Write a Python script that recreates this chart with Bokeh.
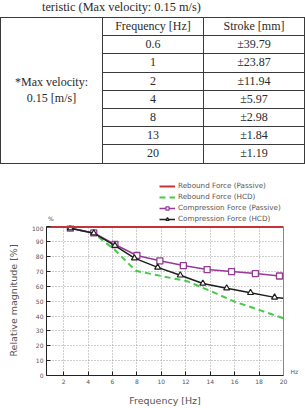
from bokeh.plotting import figure
from bokeh.layouts import column
from bokeh.models import (Range1d, Legend, LegendItem, Label, FixedTicker, Div, LinearAxis)
from bokeh.embed import file_html
from bokeh.resources import INLINE

# ---------------- Table data ----------------
caption = "teristic (Max velocity: 0.15 m/s)"
header = ["Frequency [Hz]", "Stroke [mm]"]
freq_rows = ["0.6", "1", "2", "4", "8", "13", "20"]
stroke_rows = ["±39.79", "±23.87", "±11.94", "±5.97", "±2.98", "±1.84", "±1.19"]
group_label = ["*Max velocity:", "0.15 [m/s]"]

# ---------------- Chart data ----------------
rebound_passive_x = [0.6, 20.0]
rebound_passive_y = [100.0, 100.0]
rebound_hcd_x = [2.55, 4.45, 6.2, 7.9, 9.4, 12.1, 14.0, 16.0, 18.0, 20.0]
rebound_hcd_y = [99.2, 96.0, 84.5, 70.5, 68.0, 63.5, 57.0, 49.7, 44.2, 38.5]
comp_passive_x = [2.55, 4.47, 6.2, 8.0, 9.88, 11.8, 13.75, 15.75, 17.7, 19.67, 20.0]
comp_passive_y = [99.2, 96.0, 88.2, 80.8, 77.2, 74.0, 71.3, 70.0, 68.6, 67.0, 66.8]
comp_hcd_x = [2.55, 4.47, 6.2, 7.8, 9.7, 11.55, 13.4, 15.35, 17.3, 19.27, 20.0]
comp_hcd_y = [99.2, 95.8, 87.5, 79.0, 72.8, 67.5, 62.0, 58.8, 55.7, 52.6, 52.0]
x_ticks = [2, 4, 6, 8, 10, 12, 14, 16, 18, 20]
y_ticks = [0, 10, 20, 30, 40, 50, 60, 70, 80, 90, 100]
series_names = ["Rebound Force (Passive)", "Rebound Force (HCD)",
                "Compression Force (Passive)", "Compression Force (HCD)"]
x_unit = "Hz"
y_unit = "%"

# ---------------- Styles ----------------
W = 305
TH = 170          # table block height
LH = 55           # legend block height
sans = "DejaVu Sans"
gray = "#555555"
c_red, c_green, c_purple, c_black = "#c0353a", "#44cc44", "#953a95", "#1e1e1e"


def draw_series(fig):
    """Draw the four series on a figure; returns renderers for the legend."""
    g = fig.line(rebound_hcd_x, rebound_hcd_y, line_color=c_green, line_width=2,
                 line_dash="6 4")
    pl = fig.line(comp_passive_x, comp_passive_y, line_color=c_purple, line_width=1.5)
    pm = fig.scatter(comp_passive_x[:-1], comp_passive_y[:-1], marker="square", size=6,
                     line_color=c_purple, fill_color="white", line_width=1.3)
    bl = fig.line(comp_hcd_x, comp_hcd_y, line_color=c_black, line_width=1.5)
    bm = fig.scatter(comp_hcd_x[:-1], comp_hcd_y[:-1], marker="triangle", size=6,
                     line_color=c_black, fill_color="white", line_width=1.2)
    r = fig.line(rebound_passive_x, rebound_passive_y, line_color=c_red, line_width=2)
    return r, g, pl, pm, bl, bm


# ---------------- Table (HTML) ----------------
bd = "1px solid #3a3a3a"
td = f"border:{bd};text-align:center;vertical-align:middle;padding:0;"
nrows = len(freq_rows) + 1
rows = (f"<tr style='height:18.2px'><td rowspan='{nrows}' style='{td}width:102px;line-height:16.6px'>"
        f"{group_label[0]}<br>{group_label[1]}</td>"
        f"<td style='{td}width:101px'>{header[0]}</td><td style='{td}'>{header[1]}</td></tr>")
for f, s in zip(freq_rows, stroke_rows):
    rows += f"<tr style='height:18.2px'><td style='{td}'>{f}</td><td style='{td}'>{s}</td></tr>"
html = (f"<div style='position:relative;width:{W}px;height:{TH}px;margin:0;padding:0;"
        f"font-family:\"Liberation Serif\";color:#2a2a2a;font-size:12px'>"
        f"<div style='position:absolute;left:42px;top:0px;font-size:12.3px;line-height:15px;"
        f"white-space:nowrap'>{caption}</div>"
        f"<table style='position:absolute;left:0px;top:17px;width:305px;height:146px;"
        f"border-collapse:collapse;table-layout:fixed;font-size:12px;"
        f"font-family:\"Liberation Serif\";color:#2a2a2a'>{rows}</table></div>")
table_div = Div(text=html, width=W, height=TH, margin=0)

xr = Range1d(0.6, 20)

# ---------------- Legend block (series drawn out of view, only the legend shows) -------
lg = figure(width=W, height=LH, x_range=xr, y_range=Range1d(-2, -1),
            output_backend="svg", toolbar_location=None,
            min_border_left=46, min_border_right=22, min_border_top=0, min_border_bottom=0,
            x_axis_location=None, y_axis_location=None, outline_line_color=None)
lg.grid.visible = False
k_red, k_green, k_pl, k_pm, k_bl, k_bm = draw_series(lg)
legend = Legend(items=[
    LegendItem(label=series_names[0], renderers=[k_red]),
    LegendItem(label=series_names[1], renderers=[k_green]),
    LegendItem(label=series_names[2], renderers=[k_pl, k_pm]),
    LegendItem(label=series_names[3], renderers=[k_bl, k_bm]),
], location=(113, 2), orientation="vertical",
    label_text_font=sans, label_text_font_size="7.2px", label_text_color=gray,
    glyph_width=16, glyph_height=8, label_height=8, label_standoff=3, spacing=2,
    padding=0, margin=0, border_line_alpha=0, background_fill_alpha=0)
lg.add_layout(legend, "center")
lg.add_layout(Label(x=0.6, y=-2, text=y_unit, x_offset=1.5, y_offset=4, text_baseline="bottom",
                    text_font=sans, text_font_size="6px", text_color=gray))

# ---------------- Chart figure ----------------
p = figure(width=W, height=408 - TH - LH, x_range=xr, y_range=Range1d(0, 101),
           output_backend="svg", toolbar_location=None,
           min_border_left=46, min_border_right=22, min_border_top=0, min_border_bottom=33,
           outline_line_color=None)
p.xaxis.ticker = FixedTicker(ticks=x_ticks)
p.yaxis.ticker = FixedTicker(ticks=y_ticks)
p.xgrid.ticker = FixedTicker(ticks=x_ticks)
p.ygrid.ticker = FixedTicker(ticks=y_ticks)
p.grid.grid_line_color = "#9a9a9a"
p.grid.grid_line_dash = "1 2"
p.grid.grid_line_width = 1
p.yaxis.bounds = (0, 100)

hz_tick = 3
hz_axis = LinearAxis(ticker=FixedTicker(ticks=[hz_tick]), major_label_overrides={hz_tick: x_unit},
                     bounds=(0, 100), axis_line_color="#888888", major_tick_line_color=None,
                     minor_tick_line_color=None, major_label_standoff=1,
                     major_label_text_font=sans, major_label_text_font_size="6px",
                     major_label_text_color=gray)
p.add_layout(hz_axis, "right")

for ax in (p.xaxis[0], p.yaxis[0]):
    ax.minor_tick_line_color = None
    ax.major_tick_in = 4
    ax.major_tick_out = 0
    ax.axis_line_color = "#222222"
    ax.major_tick_line_color = "#222222"
    ax.major_label_text_font = sans
    ax.major_label_text_font_size = "6px"
    ax.major_label_text_color = gray
    ax.major_label_standoff = 3
    ax.axis_label_text_font = sans
    ax.axis_label_text_font_size = "9.5px"
    ax.axis_label_text_font_style = "normal"
    ax.axis_label_text_color = gray
p.xaxis[0].axis_label = "Frequency [Hz]"
p.yaxis[0].axis_label = "Relative magnitude [%]"
p.xaxis[0].axis_label_standoff = 8
p.yaxis[0].axis_label_standoff = 10

draw_series(p)

layout = column(table_div, lg, p, spacing=0)
open("out.html", "w").write(file_html(layout, INLINE))
